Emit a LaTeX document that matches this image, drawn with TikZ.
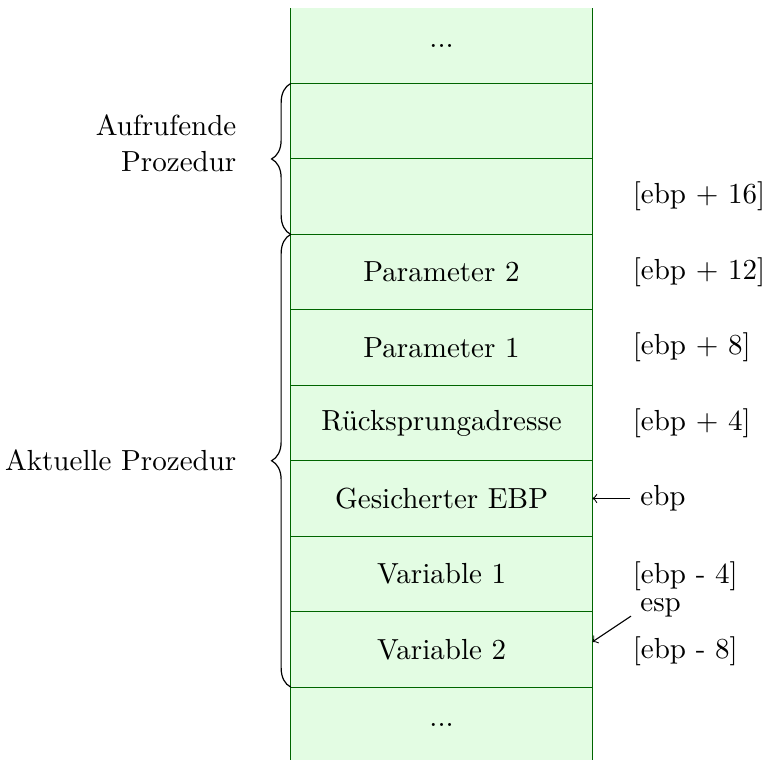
\documentclass[tikz,border=0pt,11pt]{standalone}
\usetikzlibrary{decorations.pathreplacing}
\definecolor{cellline}{RGB}{0,100,0}
\definecolor{cellfill}{RGB}{227,252,227}
\tikzset{
  cell/.style={draw=cellline, fill=cellfill, minimum width=4cm, minimum height=1cm, inner sep=0pt, outer sep=0pt},
  opencell/.style={fill=cellfill, minimum width=4cm, minimum height=1cm, inner sep=0pt, outer sep=0pt},
  sideline/.style={draw=cellline},
  addr/.style={anchor=west},
  bracestyle/.style={decorate, decoration={brace, amplitude=7.2pt}, line width=0.45pt},
  ptr/.style={->},
}
\begin{document}
\begin{tikzpicture}
\useasboundingbox (-3.853,-8.966) rectangle (6.300,1.107);
% open top and bottom cells
\node[opencell] (r0) at (2,0.5) {...};
\draw[sideline] (r0.north west) -- (r0.south west) (r0.north east) -- (r0.south east);
\node[opencell] (r9) at (2,-8.5) {...};
\draw[sideline] (r9.north west) -- (r9.south west) (r9.north east) -- (r9.south east);
% cells
\node[cell] (r1) at (2,-0.5) {};
\node[cell] (r2) at (2,-1.5) {};
\node[cell] (r3) at (2,-2.5) {Parameter 2};
\node[cell] (r4) at (2,-3.5) {Parameter 1};
\node[cell] (r5) at (2,-4.5) {Rücksprungadresse};
\node[cell] (r6) at (2,-5.5) {Gesicherter EBP};
\node[cell] (r7) at (2,-6.5) {Variable 1};
\node[cell] (r8) at (2,-7.5) {Variable 2};
% address labels
\node[addr] (a16) at (4.40,-1.5) {[ebp + 16]};
\node[addr] (a12) at (4.40,-2.5) {[ebp + 12]};
\node[addr] (a8) at (4.40,-3.5) {[ebp + 8]};
\node[addr] (a4) at (4.40,-4.5) {[ebp + 4]};
\node[addr] (ebp) at (4.5,-5.5) {ebp};
\node[addr] (am4) at (4.40,-6.53) {[ebp - 4]};
\node[addr] (esp) at (4.5,-6.95) {esp};
\node[addr] (am8) at (4.40,-7.53) {[ebp - 8]};
% pointers
\draw[ptr] (ebp.west) -- (r6.east);
\coordinate (espTail) at (4.51,-7.06);
\coordinate (espTip) at (4.0,-7.4);
\draw[ptr] (espTail) -- (espTip);
% braces
\draw[bracestyle] (r2.south west) -- (r1.north west);
\draw[bracestyle] (r8.south west) -- (r3.north west);
\node[anchor=east, align=right] (caller) at (-0.585,-0.79) {Aufrufende\\Prozedur};
\node[anchor=east] (current) at (-0.585,-5.0) {Aktuelle Prozedur};
\end{tikzpicture}
\end{document}
